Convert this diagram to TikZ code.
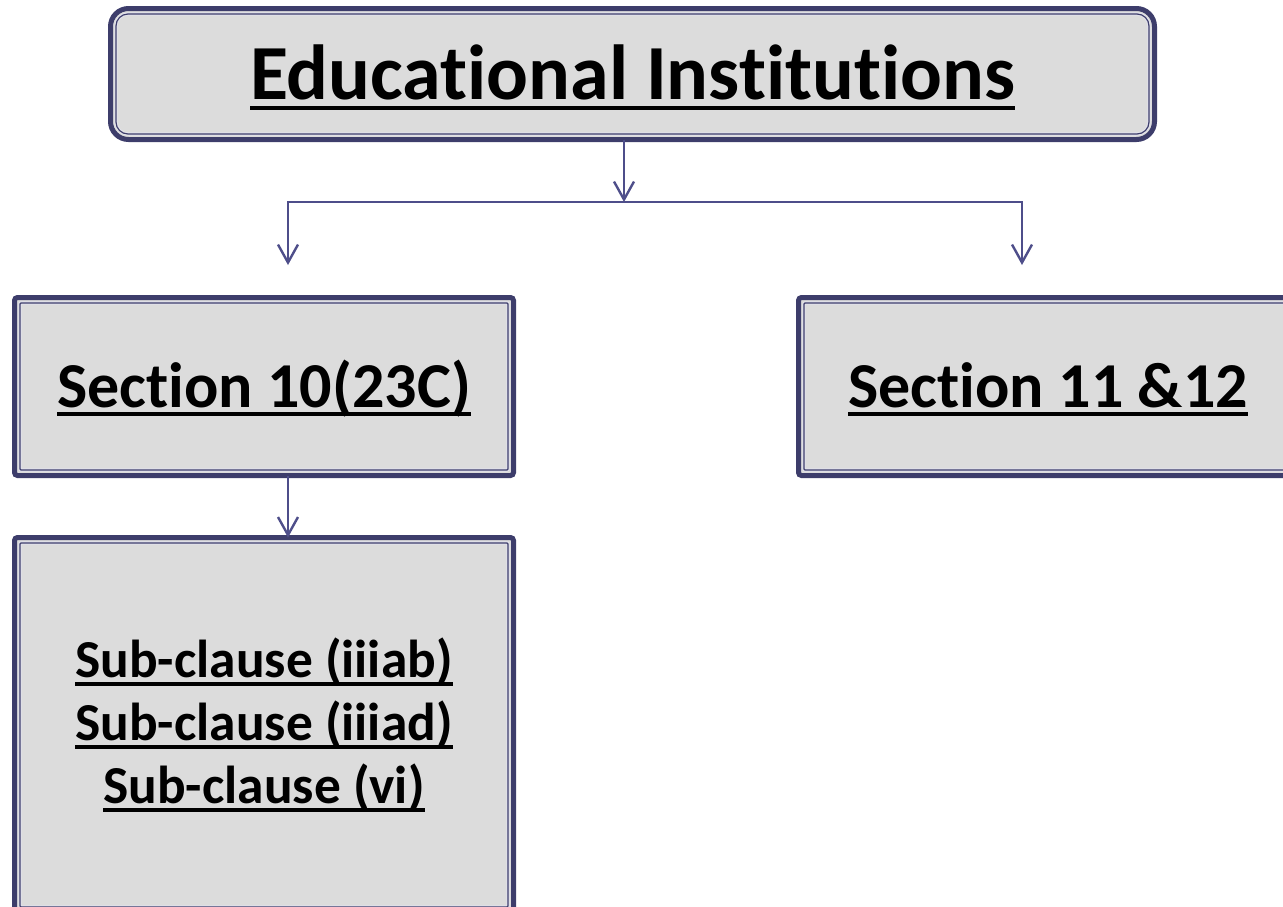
\documentclass[tikz,border=0pt]{standalone}
\usepackage{fontspec}
\setmainfont{Carlito}[Ligatures=NoCommon]
\usetikzlibrary{arrows.meta}

\definecolor{boxnavy}{HTML}{3D3D6B}
\definecolor{linknavy}{HTML}{4E4E8A}
\definecolor{boxgray}{HTML}{DCDCDC}
\definecolor{boxlight}{HTML}{E2E2EC}

% underlined text, rule scaled with the font
\newcommand{\ulbox}[1]{\setbox0=\hbox{#1}\leavevmode\rlap{\vrule width\wd0 height -0.085em depth 0.145em}\box0}

\begin{document}
\begin{tikzpicture}[x=1pt, y=-1pt,
    box/.style={draw=boxnavy, line width=5pt, fill=boxgray, inner sep=0pt, outer sep=0pt,
      align=center, rounded corners=3pt, font=\bfseries},
    innerrule/.style={draw=boxlight, line width=1pt, double=boxnavy, double distance=1.2pt},
    link/.style={draw=linknavy, line width=2.4pt, -{Straight Barb[length=18pt, width=20pt]}}]
    \useasboundingbox (0,0) rectangle (1283,906);

    % Nodes
    \node[box, rounded corners=18pt, minimum width=1044pt, minimum height=131pt, text height=50pt, text depth=0pt,
      font=\bfseries\fontsize{78}{94}\selectfont] (inst) at (632.5,74) {\ulbox{Educational Institutions}};
    \node[box, minimum width=499pt, minimum height=178pt, text height=41pt, text depth=0pt,
      font=\bfseries\fontsize{64}{77}\selectfont] (sec10) at (264,386.5) {\ulbox{Section 10(23C)}};
    \node[box, minimum width=499pt, minimum height=178pt, text height=41pt, text depth=0pt,
      font=\bfseries\fontsize{64}{77}\selectfont] (sec11) at (1048,386.5) {\ulbox{Section 11 \&12}};
    \node[box, minimum width=499pt, minimum height=375pt,
      font=\bfseries\fontsize{53.4}{63}\selectfont] (subcl) at (264,725)
      {\ulbox{Sub-clause (iiiab)}\\ \ulbox{Sub-clause (iiiad)}\\ \ulbox{Sub-clause (vi)}};

    % inner rules of the frames
    \draw[innerrule, rounded corners=12pt] ([shift={(5.5,5.5)}]inst.north west) rectangle ([shift={(-5.5,-5.5)}]inst.south east);
    \foreach \n in {sec10, sec11, subcl}
      \draw[innerrule, rounded corners=1pt] ([shift={(5.5,5.5)}]\n.north west) rectangle ([shift={(-5.5,-5.5)}]\n.south east);

    % Connectors
    \coordinate (hub) at (624,202);
    \coordinate (in10) at (288,265);
    \coordinate (in11) at (1022,265);
    \draw[link] (inst.south -| hub) -- (hub);
    \draw[link] (hub) -| (in10);
    \draw[link] (hub) -| (in11);
    \draw[link] (sec10.south -| in10) -- (subcl.north -| in10);
\end{tikzpicture}
\end{document}
